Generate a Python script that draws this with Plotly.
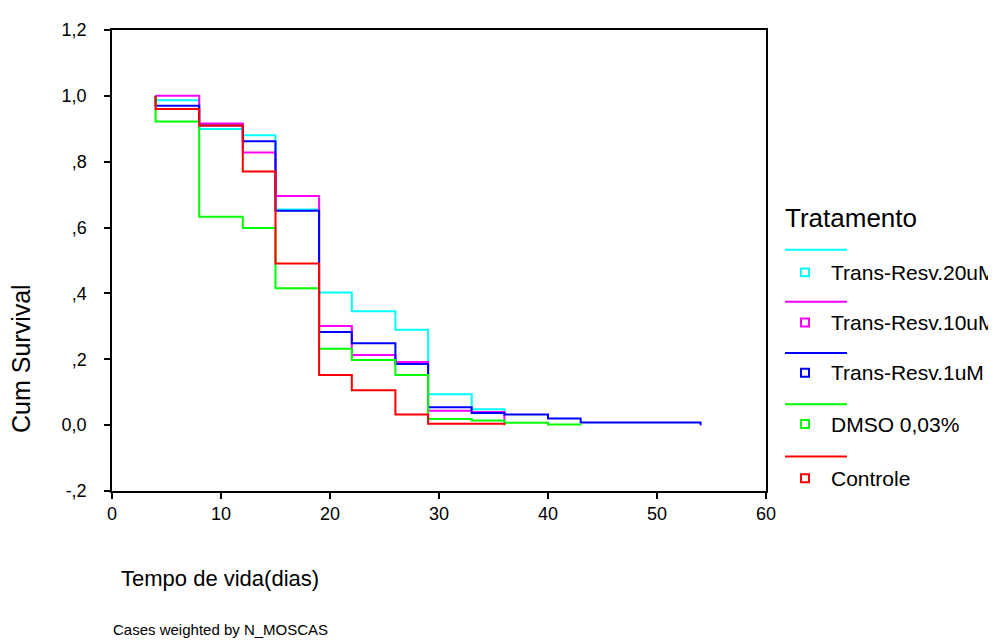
import plotly.graph_objects as go

# ---- data ----
groups = ["Trans-Resv.20uM", "Trans-Resv.10uM", "Trans-Resv.1uM", "DMSO 0,03%", "Controle"]
colors = ["#00FFFF", "#FF00FF", "#0000FF", "#00FF00", "#FF0000"]

t_20uM = [4, 8, 12, 15, 19, 22, 26, 29, 33, 36]
s_20uM = [0.987, 0.899, 0.880, 0.655, 0.403, 0.346, 0.290, 0.094, 0.048, 0.030]

t_10uM = [4, 8, 12, 15, 19, 22, 26, 29, 33, 36]
s_10uM = [1.000, 0.916, 0.828, 0.696, 0.301, 0.213, 0.192, 0.044, 0.040, 0.012]

t_1uM = [4, 8, 12, 15, 19, 22, 26, 29, 33, 36, 40, 43, 54]
s_1uM = [0.970, 0.910, 0.862, 0.651, 0.283, 0.249, 0.186, 0.054, 0.037, 0.032, 0.020, 0.008, 0.0]

t_dmso = [4, 8, 12, 15, 19, 22, 26, 29, 33, 36, 40, 43]
s_dmso = [0.922, 0.633, 0.599, 0.416, 0.232, 0.198, 0.152, 0.019, 0.014, 0.007, 0.002, 0.0]

t_ctrl = [4, 8, 12, 15, 19, 22, 26, 29, 36]
s_ctrl = [0.960, 0.910, 0.770, 0.491, 0.152, 0.106, 0.032, 0.004, 0.0]

times = [t_20uM, t_10uM, t_1uM, t_dmso, t_ctrl]
survs = [s_20uM, s_10uM, s_1uM, s_dmso, s_ctrl]

y_tickvals = [-0.2, 0.0, 0.2, 0.4, 0.6, 0.8, 1.0, 1.2]
y_ticktext = ["-,2", "0,0", ",2", ",4", ",6", ",8", "1,0", "1,2"]
x_tickvals = [0, 10, 20, 30, 40, 50, 60]

FONT = "Liberation Sans, Arial, sans-serif"

# page has an 8px body margin; positions below are in window pixels
OFF = 8
W, H = 996 - OFF, 642 - OFF
L, R, T, B = 112, 766, 23, 491   # plot area in window pixels


def px(x):
    return (x - L) / (R - L)


def py(y):
    return (B - y) / (B - T)


fig = go.Figure()
for name, col, t, s in zip(groups, colors, times, survs):
    fig.add_trace(go.Scatter(
        x=[t[0]] + t, y=[1.0] + s, mode="lines", name=name,
        line=dict(color=col, width=2, shape="hv"), showlegend=False,
        hoverinfo="skip"))

shapes = []
annotations = []

# legend (custom, SPSS style)
annotations.append(dict(text="Tratamento", x=px(783), y=py(214), xref="paper", yref="paper",
                        xanchor="left", yanchor="middle", showarrow=False,
                        font=dict(family=FONT, size=26, color="black")))
line_y = [246, 299, 351, 403, 456]
item_y = [269, 320, 371, 423, 478]
for name, col, ly, iy in zip(groups, colors, line_y, item_y):
    shapes.append(dict(type="line", xref="paper", yref="paper",
                       x0=px(785), x1=px(847), y0=py(ly), y1=py(ly),
                       line=dict(color=col, width=2)))
    shapes.append(dict(type="rect", xref="paper", yref="paper",
                       x0=px(801), x1=px(809), y0=py(iy + 4), y1=py(iy - 4),
                       line=dict(color=col, width=2), fillcolor="white"))
    annotations.append(dict(text=name, x=px(829), y=py(iy), xref="paper", yref="paper",
                            xanchor="left", yanchor="middle", showarrow=False,
                            font=dict(family=FONT, size=21, color="black")))

# axis titles and footnote
annotations.append(dict(text="Cum Survival", x=px(21), y=py(357), xref="paper", yref="paper",
                        xanchor="center", yanchor="middle", textangle=-90, showarrow=False,
                        font=dict(family=FONT, size=25, color="black")))
annotations.append(dict(text="Tempo de vida(dias)", x=px(119), y=py(580), xref="paper", yref="paper",
                        xanchor="left", yanchor="middle", showarrow=False,
                        font=dict(family=FONT, size=22, color="black")))
annotations.append(dict(text="Cases weighted by N_MOSCAS", x=px(111), y=py(632), xref="paper", yref="paper",
                        xanchor="left", yanchor="middle", showarrow=False,
                        font=dict(family=FONT, size=15, color="black")))

fig.update_layout(
    width=W, height=H,
    margin=dict(l=L - OFF, r=W - (R - OFF), t=T - OFF, b=H - (B - OFF), pad=0),
    paper_bgcolor="white", plot_bgcolor="white",
    showlegend=False,
    shapes=shapes, annotations=annotations,
    font=dict(family=FONT, color="black"),
)
fig.update_xaxes(range=[0, 60], tickvals=x_tickvals, ticks="outside", ticklen=6,
                 tickcolor="black", tickwidth=1.5, showline=True, linecolor="black",
                 linewidth=1.5, mirror=True, showgrid=False, zeroline=False,
                 tickfont=dict(family=FONT, size=18, color="black"))
fig.update_yaxes(range=[-0.2, 1.2], tickvals=y_tickvals, ticktext=y_ticktext, ticks="outside",
                 ticklen=6, tickcolor="black", tickwidth=1.5, showline=True, linecolor="black",
                 linewidth=1.5, mirror=True, showgrid=False, zeroline=False,
                 ticklabelstandoff=14,
                 tickfont=dict(family=FONT, size=18, color="black"))

fig.write_html("out.html")
